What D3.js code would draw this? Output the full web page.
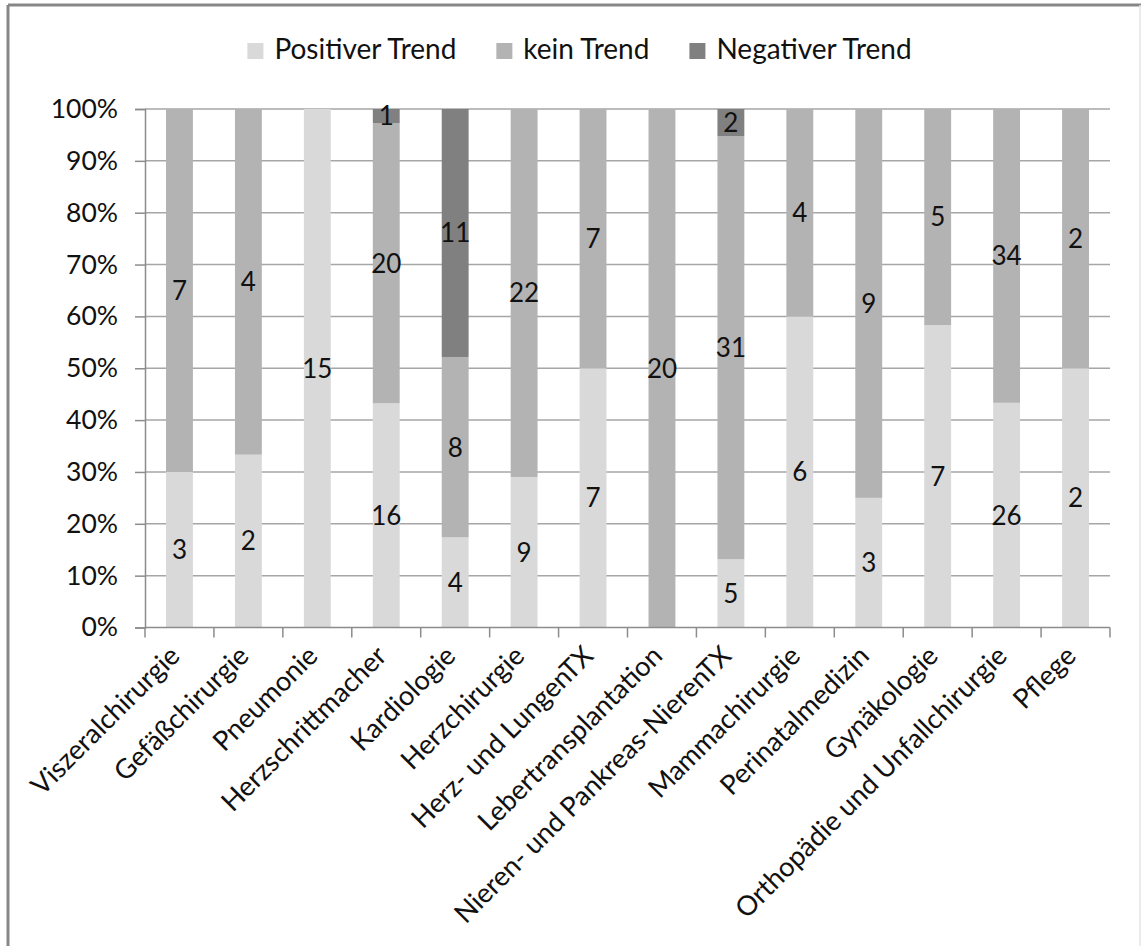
<!DOCTYPE html>
<html>
<head>
<meta charset="utf-8">
<script src="https://cdn.jsdelivr.net/npm/d3@7"></script>
<style>
  html, body { margin: 0; padding: 0; background: #fff; }
  svg { display: block; }
  text { font-family: Lato, "Open Sans", sans-serif; fill: #111; }
</style>
</head>
<body>
<svg id="chart" width="1141" height="946"></svg>
<script>
// Departments (categories)
const categories = [
  "Viszeralchirurgie", "Gefäßchirurgie", "Pneumonie", "Herzschrittmacher",
  "Kardiologie", "Herzchirurgie", "Herz- und LungenTX", "Lebertransplantation",
  "Nieren- und Pankreas-NierenTX", "Mammachirurgie", "Perinatalmedizin",
  "Gynäkologie", "Orthopädie und Unfallchirurgie", "Pflege"
];

// Counts per trend class
const positiverTrend = [3, 2, 15, 16, 4, 9, 7, 0, 5, 6, 3, 7, 26, 2];
const keinTrend      = [7, 4, 0, 20, 8, 22, 7, 20, 31, 4, 9, 5, 34, 2];
const negativerTrend = [0, 0, 0, 1, 11, 0, 0, 0, 2, 0, 0, 0, 0, 0];

const seriesNames  = ["Positiver Trend", "kein Trend", "Negativer Trend"];
const seriesColors = ["#d9d9d9", "#b3b3b3", "#808080"];
const yTickValues  = [0, 0.1, 0.2, 0.3, 0.4, 0.5, 0.6, 0.7, 0.8, 0.9, 1];

const svg = d3.select("#chart");

// Outer chart frame
svg.append("line").attr("x1", 8).attr("x2", 8).attr("y1", 5).attr("y2", 946)
  .attr("stroke", "#878787").attr("stroke-width", 3);
svg.append("line").attr("x1", 8).attr("x2", 1141).attr("y1", 5).attr("y2", 5)
  .attr("stroke", "#878787").attr("stroke-width", 3);
svg.append("line").attr("x1", 1140).attr("x2", 1140).attr("y1", 5).attr("y2", 946)
  .attr("stroke", "#e4e4e4").attr("stroke-width", 1.5);

const plot = { left: 145, right: 1110, top: 109, bottom: 627.5 };

const x = d3.scaleBand().domain(categories)
  .range([plot.left, plot.right]).paddingInner(0.61).paddingOuter(0.305);
const y = d3.scaleLinear().domain([0, 1]).range([plot.bottom, plot.top]);

// Build stacked shares
const rows = categories.map((c, i) => ({
  cat: c,
  "Positiver Trend": positiverTrend[i],
  "kein Trend": keinTrend[i],
  "Negativer Trend": negativerTrend[i]
}));
const stack = d3.stack().keys(seriesNames).offset(d3.stackOffsetExpand);
const layers = stack(rows);

// Horizontal gridlines
svg.append("g").selectAll("line")
  .data(yTickValues.filter(v => v > 0))
  .join("line")
  .attr("x1", plot.left).attr("x2", plot.right)
  .attr("y1", d => y(d)).attr("y2", d => y(d))
  .attr("stroke", "#a6a6a6").attr("stroke-width", 1.5);

// Stacked bars
const barG = svg.append("g");
layers.forEach((layer, li) => {
  barG.append("g").attr("fill", seriesColors[li])
    .selectAll("rect").data(layer).join("rect")
    .attr("x", d => x(d.data.cat))
    .attr("width", x.bandwidth())
    .attr("y", d => y(d[1]))
    .attr("height", d => y(d[0]) - y(d[1]));
});

// Y axis
const yAxis = svg.append("g")
  .attr("transform", `translate(${plot.left},0)`)
  .call(d3.axisLeft(y).tickValues(yTickValues).tickFormat(d3.format(".0%"))
    .tickSize(10).tickPadding(17));
yAxis.select(".domain").attr("stroke", "#8c8c8c").attr("stroke-width", 1.5);
yAxis.selectAll(".tick line").attr("stroke", "#8c8c8c").attr("stroke-width", 1.5);
yAxis.selectAll(".tick text").style("font-size", "26.5px").attr("fill", "#111")
  .style("font-family", "Lato, 'Open Sans', sans-serif");

// X axis with ticks at category boundaries
const xAxisG = svg.append("g").attr("transform", `translate(0,${plot.bottom})`);
xAxisG.append("line").attr("x1", plot.left).attr("x2", plot.right)
  .attr("stroke", "#8c8c8c").attr("stroke-width", 1.5);
const step = x.step();
const boundaries = categories.map(c => x(c) - x.paddingInner() * step / 2)
  .concat([plot.right]);
xAxisG.selectAll(".bt").data(boundaries).join("line").attr("class", "bt")
  .attr("x1", d => d).attr("x2", d => d).attr("y1", 0).attr("y2", 10)
  .attr("stroke", "#8c8c8c").attr("stroke-width", 1.5);

// Rotated category labels
xAxisG.selectAll(".cl").data(categories).join("text").attr("class", "cl")
  .attr("text-anchor", "end")
  .attr("transform", d => `translate(${x(d) + x.bandwidth() / 2 + 2},30) rotate(-45)`)
  .style("font-size", "27.2px")
  .text(d => d);

// Value labels centred in each segment
layers.forEach((layer, li) => {
  svg.append("g").selectAll("text")
    .data(layer.filter(d => d.data[seriesNames[li]] > 0))
    .join("text")
    .attr("x", d => x(d.data.cat) + x.bandwidth() / 2)
    .attr("y", d => y((d[0] + d[1]) / 2))
    .attr("dy", "0.36em")
    .attr("text-anchor", "middle")
    .style("font-size", "26px")
    .text(d => d.data[seriesNames[li]]);
});

// Legend, centred on the chart area
const legend = svg.append("g");
const items = legend.selectAll("g").data(seriesNames).join("g");
items.append("rect").attr("width", 16).attr("height", 16).attr("y", 43)
  .attr("fill", (d, i) => seriesColors[i]);
items.append("text").attr("x", 27).attr("y", 59).style("font-size", "28px").text(d => d);
let cursor = 0;
items.each(function () {
  const w = 27 + d3.select(this).select("text").node().getComputedTextLength();
  d3.select(this).attr("transform", `translate(${cursor},0)`);
  cursor += w + 40;
});
const legendWidth = cursor - 40;
legend.attr("transform", `translate(${579.5 - legendWidth / 2},0)`);
</script>
</body>
</html>
